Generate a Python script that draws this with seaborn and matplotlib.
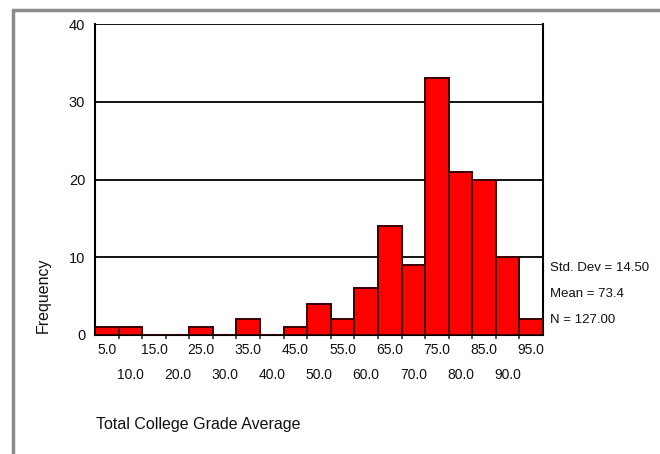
import matplotlib
matplotlib.use("Agg")
import matplotlib.pyplot as plt
import seaborn as sns
import numpy as np
import pandas as pd
from matplotlib.lines import Line2D

bin_centers = [5, 10, 15, 20, 25, 30, 35, 40, 45, 50, 55, 60, 65, 70, 75, 80, 85, 90, 95]
frequency = [1, 1, 0, 0, 1, 0, 2, 0, 1, 4, 2, 6, 14, 9, 33, 21, 20, 10, 2]
tick_labels = ["5.0", "10.0", "15.0", "20.0", "25.0", "30.0", "35.0", "40.0", "45.0", "50.0",
               "55.0", "60.0", "65.0", "70.0", "75.0", "80.0", "85.0", "90.0", "95.0"]
stats_lines = ["Std. Dev = 14.50", "Mean = 73.4", "N = 127.00"]
y_ticks = [0, 10, 20, 30, 40]

sns.set_style("white")
plt.rcParams["font.family"] = ["Liberation Sans Narrow", "Liberation Sans", "DejaVu Sans"]

W, H = 660, 454
fig = plt.figure(figsize=(6.6, 4.54), dpi=100)
L, R, T, B = 95, 543, 24, 335
ax = fig.add_axes([L / W, 1 - B / H, (R - L) / W, (B - T) / H])

df = pd.DataFrame({"grade": bin_centers, "freq": frequency})
edges = np.arange(2.5, 100, 5)
sns.histplot(data=df, x="grade", weights="freq", binwidth=5, binrange=(2.5, 97.5), ax=ax,
             color="#ff0000", edgecolor="#3a0000", linewidth=1.4, alpha=1, zorder=3)

ax.set_xlim(2.5, 97.5)
ax.set_ylim(0, 40)
ax.set_yticks(y_ticks)
ax.set_yticklabels([str(v) for v in y_ticks], fontsize=10.5, color="#111111")
for v in y_ticks[1:]:
    ax.axhline(v, color="black", lw=1.3, zorder=1)

ax.set_xticks(bin_centers)
ax.set_xticklabels([])
ax.tick_params(axis="x", length=0)
ax.tick_params(axis="y", length=4, width=1.3, color="black", pad=3)
ax.set_xticks(edges[1:-1], minor=True)
ax.tick_params(axis="x", which="minor", length=3, width=1.2, color="#333333", direction="out", bottom=True)

for i, (c, lab) in enumerate(zip(bin_centers, tick_labels)):
    yoff = -0.048 if i % 2 == 0 else -0.128
    ax.text(c, yoff, lab, transform=ax.get_xaxis_transform(), ha="center", va="center",
            fontsize=10, color="#111111")

for s in ["left", "bottom", "right", "top"]:
    ax.spines[s].set_color("black")
    ax.spines[s].set_linewidth(1.5)
ax.spines["top"].set_visible(False)

ax.set_xlabel("")
ax.set_ylabel("")
fig.text(43 / W, 1 - 295 / H, "Frequency", rotation=90, ha="center", va="center",
         fontsize=11.5, color="#111111")
fig.text(96 / W, 1 - 425 / H, "Total College Grade Average", ha="left", va="center",
         fontsize=11.5, color="#111111")

for j, s in enumerate(stats_lines):
    fig.text(550 / W, 1 - (268 + 26 * j) / H, s, ha="left", va="center", fontsize=9.5,
             color="#111111")

fig.add_artist(Line2D([13 / W, 1], [1 - 10 / H, 1 - 10 / H], color="#8a8a8a", lw=2.5,
                      transform=fig.transFigure))
fig.add_artist(Line2D([13 / W, 13 / W], [0, 1 - 10 / H], color="#8a8a8a", lw=2.5,
                      transform=fig.transFigure))

fig.savefig("out.png", dpi=100)
